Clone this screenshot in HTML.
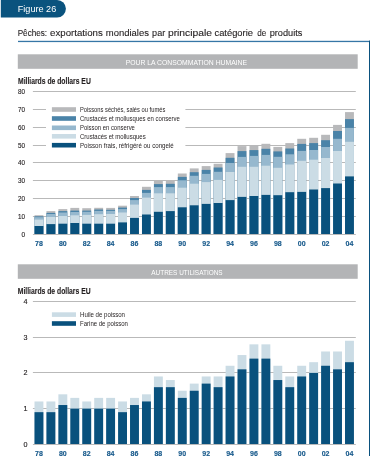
<!DOCTYPE html>
<html><head><meta charset="utf-8"><style>
html,body{margin:0;padding:0;background:#fff;width:370px;height:456px;overflow:hidden}
svg{display:block;will-change:transform;font-family:"Liberation Sans",sans-serif}
.yl{font-size:7.7px;fill:#231f20;stroke:#231f20;stroke-width:0.15px}
.xl{font-size:7.5px;font-weight:bold;fill:#17598b;stroke:#17598b;stroke-width:0.15px}
.lg{font-size:6.8px;fill:#231f20}
.hd{font-size:8px;fill:#fff}
.ti{font-size:9.7px;fill:#231f20;stroke:#231f20;stroke-width:0.12px}
.mi{font-size:8.2px;font-weight:bold;fill:#231f20;stroke:#231f20;stroke-width:0.12px}
.tb{font-size:9.8px;fill:#fff}
</style></head><body>
<svg width="370" height="456" viewBox="0 0 370 456">
<path d="M0.8 0 H57.1 A8.8 8.8 0 0 1 57.1 17.6 H0.8 Z" fill="#0a537e"/>
<text x="17.8" y="12.2" class="tb" textLength="38.4" lengthAdjust="spacingAndGlyphs">Figure 26</text>
<text x="17.70" y="35.9" class="ti" textLength="29.40" lengthAdjust="spacingAndGlyphs">Pêches:</text><text x="50.10" y="35.9" class="ti" textLength="52.70" lengthAdjust="spacingAndGlyphs">exportations</text><text x="105.80" y="35.9" class="ti" textLength="43.20" lengthAdjust="spacingAndGlyphs">mondiales</text><text x="152.10" y="35.9" class="ti" textLength="13.10" lengthAdjust="spacingAndGlyphs">par</text><text x="167.90" y="35.9" class="ti" textLength="44.20" lengthAdjust="spacingAndGlyphs">principale</text><text x="214.50" y="35.9" class="ti" textLength="38.40" lengthAdjust="spacingAndGlyphs">catégorie</text><text x="257.30" y="35.9" class="ti" textLength="9.00" lengthAdjust="spacingAndGlyphs">de</text><text x="269.70" y="35.9" class="ti" textLength="32.70" lengthAdjust="spacingAndGlyphs">produits</text>
<rect x="18" y="40.8" width="352" height="1.3" fill="#3676a6"/>
<rect x="369" y="40.6" width="1" height="416" fill="#0a517e"/>
<rect x="17.8" y="54.3" width="339.9" height="14.5" fill="#b3b4b6"/>
<text x="125.7" y="64.8" class="hd" textLength="121.4" lengthAdjust="spacingAndGlyphs">POUR LA CONSOMMATION HUMAINE</text>
<text x="18" y="83.7" class="mi" textLength="72.8" lengthAdjust="spacingAndGlyphs">Milliards de dollars EU</text>
<rect x="17.8" y="264.3" width="339.9" height="14.5" fill="#b3b4b6"/>
<text x="151.3" y="274.8" class="hd" textLength="71.3" lengthAdjust="spacingAndGlyphs">AUTRES UTILISATIONS</text>
<text x="17.8" y="293.9" class="mi" textLength="72.8" lengthAdjust="spacingAndGlyphs">Milliards de dollars EU</text>
<rect x="32.9" y="234.00" width="322.90" height="1.0" fill="#b9b9b9"/>
<text x="21.50" y="236.95" class="yl" textLength="3.60" lengthAdjust="spacingAndGlyphs">0</text>
<rect x="32.9" y="216.00" width="322.90" height="1.0" fill="#b9b9b9"/>
<text x="18.10" y="218.95" class="yl" textLength="7.00" lengthAdjust="spacingAndGlyphs">10</text>
<rect x="32.9" y="198.00" width="322.90" height="1.0" fill="#b9b9b9"/>
<text x="18.10" y="200.95" class="yl" textLength="7.00" lengthAdjust="spacingAndGlyphs">20</text>
<rect x="32.9" y="180.00" width="322.90" height="1.0" fill="#b9b9b9"/>
<text x="18.10" y="182.95" class="yl" textLength="7.00" lengthAdjust="spacingAndGlyphs">30</text>
<rect x="32.9" y="162.00" width="322.90" height="1.0" fill="#b9b9b9"/>
<text x="18.10" y="164.95" class="yl" textLength="7.00" lengthAdjust="spacingAndGlyphs">40</text>
<rect x="32.9" y="145.00" width="13.10" height="1.0" fill="#b9b9b9"/>
<rect x="185.4" y="145.00" width="170.40" height="1.0" fill="#b9b9b9"/>
<text x="18.10" y="147.95" class="yl" textLength="7.00" lengthAdjust="spacingAndGlyphs">50</text>
<rect x="32.9" y="127.00" width="13.10" height="1.0" fill="#b9b9b9"/>
<rect x="185.4" y="127.00" width="170.40" height="1.0" fill="#b9b9b9"/>
<text x="18.10" y="129.95" class="yl" textLength="7.00" lengthAdjust="spacingAndGlyphs">60</text>
<rect x="32.9" y="109.00" width="13.10" height="1.0" fill="#b9b9b9"/>
<rect x="185.4" y="109.00" width="170.40" height="1.0" fill="#b9b9b9"/>
<text x="18.10" y="111.95" class="yl" textLength="7.00" lengthAdjust="spacingAndGlyphs">70</text>
<rect x="32.9" y="91.00" width="322.90" height="1.0" fill="#b9b9b9"/>
<text x="18.10" y="93.95" class="yl" textLength="7.00" lengthAdjust="spacingAndGlyphs">80</text>
<rect x="34.50" y="215.20" width="8.9" height="18.80" fill="#b8b9bb"/>
<rect x="34.50" y="216.30" width="8.9" height="17.70" fill="#4a83a8"/>
<rect x="34.50" y="217.20" width="8.9" height="16.80" fill="#96b8ce"/>
<rect x="34.50" y="219.60" width="8.9" height="14.40" fill="#cbdce5"/>
<rect x="34.50" y="226.00" width="8.9" height="8.00" fill="#09517d"/>
<rect x="46.44" y="211.10" width="8.9" height="22.90" fill="#b8b9bb"/>
<rect x="46.44" y="212.90" width="8.9" height="21.10" fill="#4a83a8"/>
<rect x="46.44" y="214.00" width="8.9" height="20.00" fill="#96b8ce"/>
<rect x="46.44" y="217.00" width="8.9" height="17.00" fill="#cbdce5"/>
<rect x="46.44" y="224.10" width="8.9" height="9.90" fill="#09517d"/>
<rect x="58.39" y="209.10" width="8.9" height="24.90" fill="#b8b9bb"/>
<rect x="58.39" y="211.10" width="8.9" height="22.90" fill="#4a83a8"/>
<rect x="58.39" y="212.50" width="8.9" height="21.50" fill="#96b8ce"/>
<rect x="58.39" y="216.00" width="8.9" height="18.00" fill="#cbdce5"/>
<rect x="58.39" y="223.70" width="8.9" height="10.30" fill="#09517d"/>
<rect x="70.33" y="207.90" width="8.9" height="26.10" fill="#b8b9bb"/>
<rect x="70.33" y="210.60" width="8.9" height="23.40" fill="#4a83a8"/>
<rect x="70.33" y="212.00" width="8.9" height="22.00" fill="#96b8ce"/>
<rect x="70.33" y="215.30" width="8.9" height="18.70" fill="#cbdce5"/>
<rect x="70.33" y="223.00" width="8.9" height="11.00" fill="#09517d"/>
<rect x="82.27" y="208.20" width="8.9" height="25.80" fill="#b8b9bb"/>
<rect x="82.27" y="210.60" width="8.9" height="23.40" fill="#4a83a8"/>
<rect x="82.27" y="211.80" width="8.9" height="22.20" fill="#96b8ce"/>
<rect x="82.27" y="214.90" width="8.9" height="19.10" fill="#cbdce5"/>
<rect x="82.27" y="223.70" width="8.9" height="10.30" fill="#09517d"/>
<rect x="94.22" y="207.80" width="8.9" height="26.20" fill="#b8b9bb"/>
<rect x="94.22" y="209.50" width="8.9" height="24.50" fill="#4a83a8"/>
<rect x="94.22" y="210.90" width="8.9" height="23.10" fill="#96b8ce"/>
<rect x="94.22" y="214.20" width="8.9" height="19.80" fill="#cbdce5"/>
<rect x="94.22" y="223.70" width="8.9" height="10.30" fill="#09517d"/>
<rect x="106.16" y="207.90" width="8.9" height="26.10" fill="#b8b9bb"/>
<rect x="106.16" y="209.80" width="8.9" height="24.20" fill="#4a83a8"/>
<rect x="106.16" y="210.90" width="8.9" height="23.10" fill="#96b8ce"/>
<rect x="106.16" y="214.00" width="8.9" height="20.00" fill="#cbdce5"/>
<rect x="106.16" y="223.70" width="8.9" height="10.30" fill="#09517d"/>
<rect x="118.10" y="205.70" width="8.9" height="28.30" fill="#b8b9bb"/>
<rect x="118.10" y="207.60" width="8.9" height="26.40" fill="#4a83a8"/>
<rect x="118.10" y="209.10" width="8.9" height="24.90" fill="#96b8ce"/>
<rect x="118.10" y="212.50" width="8.9" height="21.50" fill="#cbdce5"/>
<rect x="118.10" y="222.40" width="8.9" height="11.60" fill="#09517d"/>
<rect x="130.04" y="196.00" width="8.9" height="38.00" fill="#b8b9bb"/>
<rect x="130.04" y="198.00" width="8.9" height="36.00" fill="#4a83a8"/>
<rect x="130.04" y="200.10" width="8.9" height="33.90" fill="#96b8ce"/>
<rect x="130.04" y="204.60" width="8.9" height="29.40" fill="#cbdce5"/>
<rect x="130.04" y="217.90" width="8.9" height="16.10" fill="#09517d"/>
<rect x="141.99" y="186.80" width="8.9" height="47.20" fill="#b8b9bb"/>
<rect x="141.99" y="189.90" width="8.9" height="44.10" fill="#4a83a8"/>
<rect x="141.99" y="192.90" width="8.9" height="41.10" fill="#96b8ce"/>
<rect x="141.99" y="197.60" width="8.9" height="36.40" fill="#cbdce5"/>
<rect x="141.99" y="214.50" width="8.9" height="19.50" fill="#09517d"/>
<rect x="153.93" y="181.00" width="8.9" height="53.00" fill="#b8b9bb"/>
<rect x="153.93" y="184.10" width="8.9" height="49.90" fill="#4a83a8"/>
<rect x="153.93" y="187.10" width="8.9" height="46.90" fill="#96b8ce"/>
<rect x="153.93" y="193.30" width="8.9" height="40.70" fill="#cbdce5"/>
<rect x="153.93" y="211.80" width="8.9" height="22.20" fill="#09517d"/>
<rect x="165.87" y="180.70" width="8.9" height="53.30" fill="#b8b9bb"/>
<rect x="165.87" y="183.80" width="8.9" height="50.20" fill="#4a83a8"/>
<rect x="165.87" y="187.10" width="8.9" height="46.90" fill="#96b8ce"/>
<rect x="165.87" y="193.30" width="8.9" height="40.70" fill="#cbdce5"/>
<rect x="165.87" y="211.10" width="8.9" height="22.90" fill="#09517d"/>
<rect x="177.82" y="173.50" width="8.9" height="60.50" fill="#b8b9bb"/>
<rect x="177.82" y="176.90" width="8.9" height="57.10" fill="#4a83a8"/>
<rect x="177.82" y="180.30" width="8.9" height="53.70" fill="#96b8ce"/>
<rect x="177.82" y="187.70" width="8.9" height="46.30" fill="#cbdce5"/>
<rect x="177.82" y="207.30" width="8.9" height="26.70" fill="#09517d"/>
<rect x="189.76" y="168.40" width="8.9" height="65.60" fill="#b8b9bb"/>
<rect x="189.76" y="172.20" width="8.9" height="61.80" fill="#4a83a8"/>
<rect x="189.76" y="175.80" width="8.9" height="58.20" fill="#96b8ce"/>
<rect x="189.76" y="183.70" width="8.9" height="50.30" fill="#cbdce5"/>
<rect x="189.76" y="205.30" width="8.9" height="28.70" fill="#09517d"/>
<rect x="201.70" y="166.10" width="8.9" height="67.90" fill="#b8b9bb"/>
<rect x="201.70" y="169.90" width="8.9" height="64.10" fill="#4a83a8"/>
<rect x="201.70" y="173.90" width="8.9" height="60.10" fill="#96b8ce"/>
<rect x="201.70" y="182.10" width="8.9" height="51.90" fill="#cbdce5"/>
<rect x="201.70" y="203.90" width="8.9" height="30.10" fill="#09517d"/>
<rect x="213.64" y="163.80" width="8.9" height="70.20" fill="#b8b9bb"/>
<rect x="213.64" y="167.50" width="8.9" height="66.50" fill="#4a83a8"/>
<rect x="213.64" y="171.80" width="8.9" height="62.20" fill="#96b8ce"/>
<rect x="213.64" y="179.90" width="8.9" height="54.10" fill="#cbdce5"/>
<rect x="213.64" y="203.00" width="8.9" height="31.00" fill="#09517d"/>
<rect x="225.59" y="153.10" width="8.9" height="80.90" fill="#b8b9bb"/>
<rect x="225.59" y="157.80" width="8.9" height="76.20" fill="#4a83a8"/>
<rect x="225.59" y="163.00" width="8.9" height="71.00" fill="#96b8ce"/>
<rect x="225.59" y="172.00" width="8.9" height="62.00" fill="#cbdce5"/>
<rect x="225.59" y="200.10" width="8.9" height="33.90" fill="#09517d"/>
<rect x="237.53" y="146.10" width="8.9" height="87.90" fill="#b8b9bb"/>
<rect x="237.53" y="151.10" width="8.9" height="82.90" fill="#4a83a8"/>
<rect x="237.53" y="156.90" width="8.9" height="77.10" fill="#96b8ce"/>
<rect x="237.53" y="166.80" width="8.9" height="67.20" fill="#cbdce5"/>
<rect x="237.53" y="196.90" width="8.9" height="37.10" fill="#09517d"/>
<rect x="249.47" y="145.10" width="8.9" height="88.90" fill="#b8b9bb"/>
<rect x="249.47" y="150.10" width="8.9" height="83.90" fill="#4a83a8"/>
<rect x="249.47" y="155.90" width="8.9" height="78.10" fill="#96b8ce"/>
<rect x="249.47" y="166.80" width="8.9" height="67.20" fill="#cbdce5"/>
<rect x="249.47" y="196.00" width="8.9" height="38.00" fill="#09517d"/>
<rect x="261.42" y="143.80" width="8.9" height="90.20" fill="#b8b9bb"/>
<rect x="261.42" y="148.80" width="8.9" height="85.20" fill="#4a83a8"/>
<rect x="261.42" y="154.90" width="8.9" height="79.10" fill="#96b8ce"/>
<rect x="261.42" y="165.70" width="8.9" height="68.30" fill="#cbdce5"/>
<rect x="261.42" y="194.90" width="8.9" height="39.10" fill="#09517d"/>
<rect x="273.36" y="146.90" width="8.9" height="87.10" fill="#b8b9bb"/>
<rect x="273.36" y="151.40" width="8.9" height="82.60" fill="#4a83a8"/>
<rect x="273.36" y="156.80" width="8.9" height="77.20" fill="#96b8ce"/>
<rect x="273.36" y="167.80" width="8.9" height="66.20" fill="#cbdce5"/>
<rect x="273.36" y="195.20" width="8.9" height="38.80" fill="#09517d"/>
<rect x="285.30" y="143.10" width="8.9" height="90.90" fill="#b8b9bb"/>
<rect x="285.30" y="148.50" width="8.9" height="85.50" fill="#4a83a8"/>
<rect x="285.30" y="154.30" width="8.9" height="79.70" fill="#96b8ce"/>
<rect x="285.30" y="164.50" width="8.9" height="69.50" fill="#cbdce5"/>
<rect x="285.30" y="192.20" width="8.9" height="41.80" fill="#09517d"/>
<rect x="297.25" y="138.80" width="8.9" height="95.20" fill="#b8b9bb"/>
<rect x="297.25" y="143.90" width="8.9" height="90.10" fill="#4a83a8"/>
<rect x="297.25" y="150.90" width="8.9" height="83.10" fill="#96b8ce"/>
<rect x="297.25" y="160.80" width="8.9" height="73.20" fill="#cbdce5"/>
<rect x="297.25" y="191.90" width="8.9" height="42.10" fill="#09517d"/>
<rect x="309.19" y="137.80" width="8.9" height="96.20" fill="#b8b9bb"/>
<rect x="309.19" y="143.10" width="8.9" height="90.90" fill="#4a83a8"/>
<rect x="309.19" y="150.00" width="8.9" height="84.00" fill="#96b8ce"/>
<rect x="309.19" y="159.70" width="8.9" height="74.30" fill="#cbdce5"/>
<rect x="309.19" y="189.50" width="8.9" height="44.50" fill="#09517d"/>
<rect x="321.13" y="134.80" width="8.9" height="99.20" fill="#b8b9bb"/>
<rect x="321.13" y="140.20" width="8.9" height="93.80" fill="#4a83a8"/>
<rect x="321.13" y="147.00" width="8.9" height="87.00" fill="#96b8ce"/>
<rect x="321.13" y="158.00" width="8.9" height="76.00" fill="#cbdce5"/>
<rect x="321.13" y="188.10" width="8.9" height="45.90" fill="#09517d"/>
<rect x="333.07" y="124.90" width="8.9" height="109.10" fill="#b8b9bb"/>
<rect x="333.07" y="131.00" width="8.9" height="103.00" fill="#4a83a8"/>
<rect x="333.07" y="138.80" width="8.9" height="95.20" fill="#96b8ce"/>
<rect x="333.07" y="151.00" width="8.9" height="83.00" fill="#cbdce5"/>
<rect x="333.07" y="183.50" width="8.9" height="50.50" fill="#09517d"/>
<rect x="345.02" y="112.10" width="8.9" height="121.90" fill="#b8b9bb"/>
<rect x="345.02" y="119.10" width="8.9" height="114.90" fill="#4a83a8"/>
<rect x="345.02" y="127.90" width="8.9" height="106.10" fill="#96b8ce"/>
<rect x="345.02" y="141.80" width="8.9" height="92.20" fill="#cbdce5"/>
<rect x="345.02" y="176.40" width="8.9" height="57.60" fill="#09517d"/>
<text x="35.05" y="245.90" class="xl" textLength="7.80" lengthAdjust="spacingAndGlyphs">78</text>
<text x="58.94" y="245.90" class="xl" textLength="7.80" lengthAdjust="spacingAndGlyphs">80</text>
<text x="82.82" y="245.90" class="xl" textLength="7.80" lengthAdjust="spacingAndGlyphs">82</text>
<text x="106.71" y="245.90" class="xl" textLength="7.80" lengthAdjust="spacingAndGlyphs">84</text>
<text x="130.59" y="245.90" class="xl" textLength="7.80" lengthAdjust="spacingAndGlyphs">86</text>
<text x="154.48" y="245.90" class="xl" textLength="7.80" lengthAdjust="spacingAndGlyphs">88</text>
<text x="178.37" y="245.90" class="xl" textLength="7.80" lengthAdjust="spacingAndGlyphs">90</text>
<text x="202.25" y="245.90" class="xl" textLength="7.80" lengthAdjust="spacingAndGlyphs">92</text>
<text x="226.14" y="245.90" class="xl" textLength="7.80" lengthAdjust="spacingAndGlyphs">94</text>
<text x="250.02" y="245.90" class="xl" textLength="7.80" lengthAdjust="spacingAndGlyphs">96</text>
<text x="273.91" y="245.90" class="xl" textLength="7.80" lengthAdjust="spacingAndGlyphs">98</text>
<text x="297.80" y="245.90" class="xl" textLength="7.80" lengthAdjust="spacingAndGlyphs">00</text>
<text x="321.68" y="245.90" class="xl" textLength="7.80" lengthAdjust="spacingAndGlyphs">02</text>
<text x="345.57" y="245.90" class="xl" textLength="7.80" lengthAdjust="spacingAndGlyphs">04</text>
<rect x="51.9" y="107.20" width="24.1" height="4.6" fill="#b8b9bb"/>
<text x="80.00" y="112.00" class="lg" textLength="85.30" lengthAdjust="spacingAndGlyphs">Poissons séchés, salés ou fumés</text>
<rect x="51.9" y="116.20" width="24.1" height="4.6" fill="#4a83a8"/>
<text x="80.00" y="120.93" class="lg" textLength="99.90" lengthAdjust="spacingAndGlyphs">Crustacés et mollusques en conserve</text>
<rect x="51.9" y="125.50" width="24.1" height="4.6" fill="#96b8ce"/>
<text x="80.00" y="129.86" class="lg" textLength="54.90" lengthAdjust="spacingAndGlyphs">Poisson en conserve</text>
<rect x="51.9" y="134.00" width="24.1" height="4.6" fill="#cbdce5"/>
<text x="80.00" y="138.79" class="lg" textLength="65.70" lengthAdjust="spacingAndGlyphs">Crustacés et mollusques</text>
<rect x="51.9" y="142.90" width="24.1" height="4.6" fill="#09517d"/>
<text x="80.00" y="147.72" class="lg" textLength="93.80" lengthAdjust="spacingAndGlyphs">Poisson frais, réfrigéré ou congelé</text>
<rect x="32.9" y="444.00" width="322.90" height="1.0" fill="#b9b9b9"/>
<text x="23.60" y="446.95" class="yl" textLength="4.00" lengthAdjust="spacingAndGlyphs">0</text>
<rect x="32.9" y="408.00" width="322.90" height="1.0" fill="#b9b9b9"/>
<text x="23.60" y="410.95" class="yl" textLength="4.00" lengthAdjust="spacingAndGlyphs">1</text>
<rect x="32.9" y="372.00" width="322.90" height="1.0" fill="#b9b9b9"/>
<text x="23.60" y="374.95" class="yl" textLength="4.00" lengthAdjust="spacingAndGlyphs">2</text>
<rect x="32.9" y="337.00" width="322.90" height="1.0" fill="#b9b9b9"/>
<text x="23.60" y="339.95" class="yl" textLength="4.00" lengthAdjust="spacingAndGlyphs">3</text>
<rect x="32.9" y="301.00" width="322.90" height="1.0" fill="#b9b9b9"/>
<text x="23.60" y="303.95" class="yl" textLength="4.00" lengthAdjust="spacingAndGlyphs">4</text>
<rect x="34.50" y="401.46" width="8.9" height="42.54" fill="#cbdce5"/>
<rect x="34.50" y="412.17" width="8.9" height="31.83" fill="#09517d"/>
<rect x="46.44" y="401.46" width="8.9" height="42.54" fill="#cbdce5"/>
<rect x="46.44" y="412.17" width="8.9" height="31.83" fill="#09517d"/>
<rect x="58.39" y="394.32" width="8.9" height="49.68" fill="#cbdce5"/>
<rect x="58.39" y="405.03" width="8.9" height="38.97" fill="#09517d"/>
<rect x="70.33" y="397.89" width="8.9" height="46.11" fill="#cbdce5"/>
<rect x="70.33" y="408.60" width="8.9" height="35.40" fill="#09517d"/>
<rect x="82.27" y="401.46" width="8.9" height="42.54" fill="#cbdce5"/>
<rect x="82.27" y="408.60" width="8.9" height="35.40" fill="#09517d"/>
<rect x="94.22" y="397.89" width="8.9" height="46.11" fill="#cbdce5"/>
<rect x="94.22" y="408.60" width="8.9" height="35.40" fill="#09517d"/>
<rect x="106.16" y="397.89" width="8.9" height="46.11" fill="#cbdce5"/>
<rect x="106.16" y="408.60" width="8.9" height="35.40" fill="#09517d"/>
<rect x="118.10" y="401.46" width="8.9" height="42.54" fill="#cbdce5"/>
<rect x="118.10" y="412.17" width="8.9" height="31.83" fill="#09517d"/>
<rect x="130.04" y="397.89" width="8.9" height="46.11" fill="#cbdce5"/>
<rect x="130.04" y="405.03" width="8.9" height="38.97" fill="#09517d"/>
<rect x="141.99" y="394.32" width="8.9" height="49.68" fill="#cbdce5"/>
<rect x="141.99" y="401.46" width="8.9" height="42.54" fill="#09517d"/>
<rect x="153.93" y="376.47" width="8.9" height="67.53" fill="#cbdce5"/>
<rect x="153.93" y="387.18" width="8.9" height="56.82" fill="#09517d"/>
<rect x="165.87" y="380.04" width="8.9" height="63.96" fill="#cbdce5"/>
<rect x="165.87" y="387.18" width="8.9" height="56.82" fill="#09517d"/>
<rect x="177.82" y="390.75" width="8.9" height="53.25" fill="#cbdce5"/>
<rect x="177.82" y="397.89" width="8.9" height="46.11" fill="#09517d"/>
<rect x="189.76" y="383.61" width="8.9" height="60.39" fill="#cbdce5"/>
<rect x="189.76" y="390.75" width="8.9" height="53.25" fill="#09517d"/>
<rect x="201.70" y="376.47" width="8.9" height="67.53" fill="#cbdce5"/>
<rect x="201.70" y="383.61" width="8.9" height="60.39" fill="#09517d"/>
<rect x="213.64" y="376.47" width="8.9" height="67.53" fill="#cbdce5"/>
<rect x="213.64" y="387.18" width="8.9" height="56.82" fill="#09517d"/>
<rect x="225.59" y="365.76" width="8.9" height="78.24" fill="#cbdce5"/>
<rect x="225.59" y="376.47" width="8.9" height="67.53" fill="#09517d"/>
<rect x="237.53" y="355.05" width="8.9" height="88.95" fill="#cbdce5"/>
<rect x="237.53" y="369.33" width="8.9" height="74.67" fill="#09517d"/>
<rect x="249.47" y="344.34" width="8.9" height="99.66" fill="#cbdce5"/>
<rect x="249.47" y="358.62" width="8.9" height="85.38" fill="#09517d"/>
<rect x="261.42" y="344.34" width="8.9" height="99.66" fill="#cbdce5"/>
<rect x="261.42" y="358.62" width="8.9" height="85.38" fill="#09517d"/>
<rect x="273.36" y="365.76" width="8.9" height="78.24" fill="#cbdce5"/>
<rect x="273.36" y="380.04" width="8.9" height="63.96" fill="#09517d"/>
<rect x="285.30" y="376.47" width="8.9" height="67.53" fill="#cbdce5"/>
<rect x="285.30" y="387.18" width="8.9" height="56.82" fill="#09517d"/>
<rect x="297.25" y="365.76" width="8.9" height="78.24" fill="#cbdce5"/>
<rect x="297.25" y="376.47" width="8.9" height="67.53" fill="#09517d"/>
<rect x="309.19" y="362.19" width="8.9" height="81.81" fill="#cbdce5"/>
<rect x="309.19" y="372.90" width="8.9" height="71.10" fill="#09517d"/>
<rect x="321.13" y="351.48" width="8.9" height="92.52" fill="#cbdce5"/>
<rect x="321.13" y="365.76" width="8.9" height="78.24" fill="#09517d"/>
<rect x="333.07" y="351.48" width="8.9" height="92.52" fill="#cbdce5"/>
<rect x="333.07" y="369.33" width="8.9" height="74.67" fill="#09517d"/>
<rect x="345.02" y="340.77" width="8.9" height="103.23" fill="#cbdce5"/>
<rect x="345.02" y="362.19" width="8.9" height="81.81" fill="#09517d"/>
<text x="35.05" y="455.80" class="xl" textLength="7.80" lengthAdjust="spacingAndGlyphs">78</text>
<text x="58.94" y="455.80" class="xl" textLength="7.80" lengthAdjust="spacingAndGlyphs">80</text>
<text x="82.82" y="455.80" class="xl" textLength="7.80" lengthAdjust="spacingAndGlyphs">82</text>
<text x="106.71" y="455.80" class="xl" textLength="7.80" lengthAdjust="spacingAndGlyphs">84</text>
<text x="130.59" y="455.80" class="xl" textLength="7.80" lengthAdjust="spacingAndGlyphs">86</text>
<text x="154.48" y="455.80" class="xl" textLength="7.80" lengthAdjust="spacingAndGlyphs">88</text>
<text x="178.37" y="455.80" class="xl" textLength="7.80" lengthAdjust="spacingAndGlyphs">90</text>
<text x="202.25" y="455.80" class="xl" textLength="7.80" lengthAdjust="spacingAndGlyphs">92</text>
<text x="226.14" y="455.80" class="xl" textLength="7.80" lengthAdjust="spacingAndGlyphs">94</text>
<text x="250.02" y="455.80" class="xl" textLength="7.80" lengthAdjust="spacingAndGlyphs">96</text>
<text x="273.91" y="455.80" class="xl" textLength="7.80" lengthAdjust="spacingAndGlyphs">98</text>
<text x="297.80" y="455.80" class="xl" textLength="7.80" lengthAdjust="spacingAndGlyphs">00</text>
<text x="321.68" y="455.80" class="xl" textLength="7.80" lengthAdjust="spacingAndGlyphs">02</text>
<text x="345.57" y="455.80" class="xl" textLength="7.80" lengthAdjust="spacingAndGlyphs">04</text>
<rect x="51.9" y="312.30" width="24.1" height="4.6" fill="#cbdce5"/>
<text x="80.00" y="316.80" class="lg" textLength="45.00" lengthAdjust="spacingAndGlyphs">Huile de poisson</text>
<rect x="51.9" y="321.20" width="24.1" height="4.6" fill="#09517d"/>
<text x="80.00" y="325.90" class="lg" textLength="47.90" lengthAdjust="spacingAndGlyphs">Farine de poisson</text>
</svg></body></html>
